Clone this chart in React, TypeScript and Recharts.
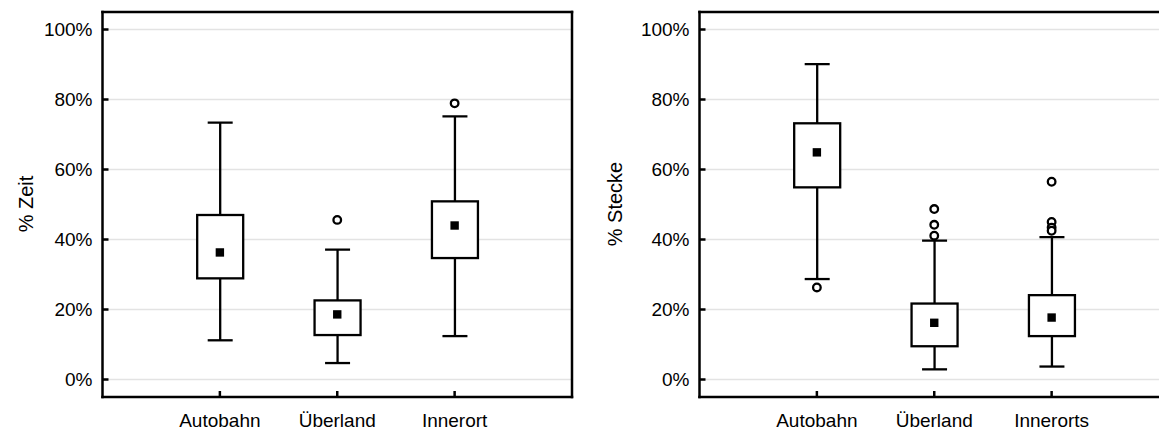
import React from "react";
import {
  ComposedChart,
  Bar,
  Scatter,
  XAxis,
  YAxis,
  CartesianGrid,
} from "recharts";

// left panel: share of time
const zeitCategories = ["Autobahn", "Überland", "Innerort"];
const zeitMin = [11.2, 4.7, 12.4];
const zeitQ1 = [28.9, 12.7, 34.7];
const zeitMean = [36.3, 18.6, 44.0];
const zeitQ3 = [47.0, 22.6, 50.9];
const zeitMax = [73.4, 37.1, 75.2];
const zeitOutlierCats = ["Überland", "Innerort"];
const zeitOutlierValues = [45.6, 78.9];

// right panel: share of distance
const streckeCategories = ["Autobahn", "Überland", "Innerorts"];
const streckeMin = [28.7, 2.9, 3.7];
const streckeQ1 = [54.9, 9.5, 12.4];
const streckeMean = [64.9, 16.2, 17.7];
const streckeQ3 = [73.2, 21.7, 24.1];
const streckeMax = [90.1, 39.7, 40.7];
const streckeOutlierCats = [
  "Autobahn",
  "Überland",
  "Überland",
  "Überland",
  "Innerorts",
  "Innerorts",
  "Innerorts",
  "Innerorts",
];
const streckeOutlierValues = [26.3, 48.7, 44.2, 41.1, 56.5, 45.0, 43.4, 42.5];

const yTicks = [0, 20, 40, 60, 80, 100];

const FONT = "Arial, 'Liberation Sans', sans-serif";
const CHART_W = 580;
const CHART_H = 432;
const Y_AXIS_W = 102.5;
const RIGHT_AXIS_W = 8;
const PAD = (CHART_W - Y_AXIS_W - RIGHT_AXIS_W) / 8;
const LW = 2.3;

const frameLine = { stroke: "#000", strokeWidth: 2.5, strokeLinecap: "square" as const };
const tickLine = { stroke: "#000", strokeWidth: 2.5 };
const tickText = { fill: "#000", fontSize: 19, fontFamily: FONT };

const LowerWhisker = (p: any) => {
  const cx = p.x + p.width / 2;
  const bottom = p.y + p.height;
  return (
    <g>
      <line x1={cx} x2={cx} y1={p.y} y2={bottom} stroke="#000" strokeWidth={LW} />
      <line x1={cx - 12.5} x2={cx + 12.5} y1={bottom} y2={bottom} stroke="#000" strokeWidth={LW} />
    </g>
  );
};

const UpperWhisker = (p: any) => {
  const cx = p.x + p.width / 2;
  return (
    <g>
      <line x1={cx} x2={cx} y1={p.y} y2={p.y + p.height} stroke="#000" strokeWidth={LW} />
      <line x1={cx - 12.5} x2={cx + 12.5} y1={p.y} y2={p.y} stroke="#000" strokeWidth={LW} />
    </g>
  );
};

const BoxRect = (p: any) => (
  <rect x={p.x} y={p.y} width={p.width} height={p.height} fill="#fff" stroke="#000" strokeWidth={LW} />
);

const MeanMarker = (p: any) => (
  <rect x={p.cx - 4.2} y={p.cy - 4.2} width={8.4} height={8.4} fill="#000" />
);

const OutlierMarker = (p: any) => (
  <circle cx={p.cx} cy={p.cy} r={3.8} fill="#fff" stroke="#000" strokeWidth={2.3} />
);

const AxisTitle = ({ text, tx, ty }: any) => (
  <text
    x={tx}
    y={ty}
    transform={`rotate(-90 ${tx} ${ty})`}
    textAnchor="middle"
    fill="#000"
    fontSize={20}
    fontFamily={FONT}
  >
    {text}
  </text>
);

interface PanelProps {
  categories: string[];
  min: number[];
  q1: number[];
  mean: number[];
  q3: number[];
  max: number[];
  outlierCats: string[];
  outlierValues: number[];
  title: string;
  titleX: number;
  titleY: number;
}

const BoxPanel = ({
  categories,
  min,
  q1,
  mean,
  q3,
  max,
  outlierCats,
  outlierValues,
  title,
  titleX,
  titleY,
}: PanelProps) => {
  const rows = categories.map((name, i) => ({
    name,
    base: min[i],
    lower: q1[i] - min[i],
    box: q3[i] - q1[i],
    upper: max[i] - q3[i],
  }));
  const means = categories.map((name, i) => ({ name, value: mean[i] }));
  const outliers = outlierCats.map((name, i) => ({ name, value: outlierValues[i] }));

  return (
    <ComposedChart
      width={CHART_W}
      height={CHART_H}
      data={rows}
      margin={{ top: 0, right: 0, bottom: 0, left: 0 }}
    >
      <CartesianGrid vertical={false} stroke="#e3e3e3" strokeWidth={1.5} />
      <XAxis
        dataKey="name"
        type="category"
        allowDuplicatedCategory={false}
        padding={{ left: PAD, right: PAD }}
        height={35}
        interval={0}
        tickSize={-6}
        tickMargin={22.5}
        axisLine={frameLine}
        tickLine={tickLine}
        tick={tickText}
      />
      <XAxis
        xAxisId="top"
        orientation="top"
        dataKey="name"
        type="category"
        allowDuplicatedCategory={false}
        padding={{ left: PAD, right: PAD }}
        height={12}
        interval={0}
        tickSize={-6}
        axisLine={frameLine}
        tickLine={tickLine}
        tick={false}
      />
      <YAxis
        type="number"
        domain={[-5, 105]}
        ticks={yTicks}
        allowDataOverflow
        width={Y_AXIS_W}
        tickSize={-6}
        tickMargin={16}
        tickFormatter={(v: number) => `${v}%`}
        axisLine={frameLine}
        tickLine={tickLine}
        tick={tickText}
        label={<AxisTitle text={title} tx={titleX} ty={titleY} />}
      />
      <YAxis
        yAxisId="right"
        orientation="right"
        type="number"
        domain={[-5, 105]}
        ticks={yTicks}
        allowDataOverflow
        width={RIGHT_AXIS_W}
        tickSize={-6}
        axisLine={frameLine}
        tickLine={tickLine}
        tick={false}
      />
      <Bar dataKey="base" stackId="b" barSize={46} fill="none" isAnimationActive={false} />
      <Bar dataKey="lower" stackId="b" barSize={46} shape={LowerWhisker} isAnimationActive={false} />
      <Bar dataKey="box" stackId="b" barSize={46} shape={BoxRect} isAnimationActive={false} />
      <Bar dataKey="upper" stackId="b" barSize={46} shape={UpperWhisker} isAnimationActive={false} />
      <Scatter data={means} dataKey="value" shape={MeanMarker} isAnimationActive={false} />
      <Scatter data={outliers} dataKey="value" shape={OutlierMarker} isAnimationActive={false} />
    </ComposedChart>
  );
};

export default function App() {
  return (
    <div
      style={{
        position: "relative",
        width: 1159,
        height: 432,
        overflow: "hidden",
        background: "#fff",
      }}
    >
      <style>{"body{margin:0}"}</style>
      <div style={{ position: "absolute", left: 0, top: 0 }}>
        <BoxPanel
          categories={zeitCategories}
          min={zeitMin}
          q1={zeitQ1}
          mean={zeitMean}
          q3={zeitQ3}
          max={zeitMax}
          outlierCats={zeitOutlierCats}
          outlierValues={zeitOutlierValues}
          title="% Zeit"
          titleX={32.5}
          titleY={204}
        />
      </div>
      <div style={{ position: "absolute", left: 596.5, top: 0 }}>
        <BoxPanel
          categories={streckeCategories}
          min={streckeMin}
          q1={streckeQ1}
          mean={streckeMean}
          q3={streckeQ3}
          max={streckeMax}
          outlierCats={streckeOutlierCats}
          outlierValues={streckeOutlierValues}
          title="% Stecke"
          titleX={24.5}
          titleY={204}
        />
      </div>
    </div>
  );
}
